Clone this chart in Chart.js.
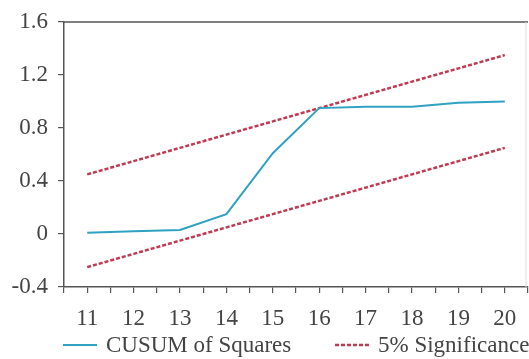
<!DOCTYPE html>
<html>
<head>
<meta charset="utf-8">
<script src="https://cdn.jsdelivr.net/npm/chart.js@4/dist/chart.umd.min.js"></script>
<style>
  html, body { margin: 0; padding: 0; background: #fff; }
  #wrap { width: 529px; height: 359px; position: relative; }
</style>
</head>
<body>
<div id="wrap"><canvas id="c"></canvas></div>
<script>
const periods = [11, 12, 13, 14, 15, 16, 17, 18, 19, 20];
const cusumSq = [0.01, 0.02, 0.03, 0.15, 0.61, 0.95, 0.96, 0.96, 0.99, 1.0];
const upperBound = [0.45, 0.55, 0.65, 0.75, 0.85, 0.95, 1.05, 1.15, 1.25, 1.35];
const lowerBound = [-0.25, -0.15, -0.05, 0.05, 0.15, 0.25, 0.35, 0.45, 0.55, 0.65];
const yTicks = [-0.4, 0, 0.4, 0.8, 1.2, 1.6];

const serif = '"Liberation Serif", "Times New Roman", serif';
const axisColor = '#555';
const teal = '#2fa2c2';
const red = '#c03a52';

const toPoints = vals => vals.map((v, i) => ({ x: periods[i], y: v }));

// top/right frame + legend in the bottom strip
const framePlugin = {
  id: 'frame',
  afterDraw(chart) {
    const { ctx, chartArea: a } = chart;
    ctx.save();
    ctx.strokeStyle = axisColor;
    ctx.lineWidth = 1.5;
    ctx.beginPath();
    ctx.moveTo(a.left, a.top);
    ctx.lineTo(a.right, a.top);
    ctx.stroke();
    ctx.strokeStyle = '#ddd';
    ctx.lineWidth = 1;
    ctx.beginPath();
    ctx.moveTo(a.right - 2, a.top);
    ctx.lineTo(a.right - 2, a.bottom);
    ctx.stroke();

    const items = [
      { ds: chart.data.datasets[0], x0: 63 },
      { ds: chart.data.datasets[1], x0: 335 }
    ];
    const ly = 345;
    ctx.font = '23px ' + serif;
    ctx.textBaseline = 'middle';
    items.forEach(it => {
      ctx.strokeStyle = it.ds.borderColor;
      ctx.lineWidth = it.ds.borderWidth;
      ctx.setLineDash(it.ds.borderDash || []);
      ctx.beginPath();
      ctx.moveTo(it.x0, ly);
      ctx.lineTo(it.x0 + 34, ly);
      ctx.stroke();
      ctx.setLineDash([]);
      ctx.fillStyle = '#444';
      ctx.fillText(it.ds.label, it.x0 + 43, ly + 1);
    });
    ctx.restore();
  }
};

new Chart(document.getElementById('c'), {
  type: 'line',
  data: {
    datasets: [
      {
        label: 'CUSUM of Squares',
        data: toPoints(cusumSq),
        borderColor: teal,
        borderWidth: 2,
        pointRadius: 0,
        tension: 0
      },
      {
        label: '5% Significance',
        data: toPoints(upperBound),
        borderColor: red,
        borderWidth: 2.5,
        borderDash: [4, 2],
        pointRadius: 0
      },
      {
        label: '5% Significance (lower)',
        data: toPoints(lowerBound),
        borderColor: red,
        borderWidth: 2.5,
        borderDash: [4, 2],
        pointRadius: 0
      }
    ]
  },
  options: {
    responsive: true,
    maintainAspectRatio: false,
    animation: false,
    layout: { padding: { top: 22, right: 1, left: 0, bottom: 0 } },
    plugins: {
      legend: { display: false },
      tooltip: { enabled: false }
    },
    scales: {
      x: {
        type: 'linear',
        min: 10.5,
        max: 20.5,
        afterFit: s => {
          s.height = 72;
          s.paddingLeft = 0;
          s.paddingRight = 0;
        },
        afterBuildTicks: s => {
          const t = [];
          for (let v = 21; v <= 41; v++) t.push({ value: v / 2 });
          s.ticks = t;
        },
        border: { color: axisColor, width: 1.5 },
        grid: { drawOnChartArea: false, drawTicks: true, tickLength: 6, color: axisColor, lineWidth: 1.2 },
        ticks: {
          autoSkip: false,
          maxRotation: 0,
          padding: 12,
          color: '#444',
          font: { family: serif, size: 23 },
          callback: v => (Number.isInteger(v) && periods.includes(v) ? String(v) : '')
        }
      },
      y: {
        min: -0.4,
        max: 1.6,
        afterFit: s => {
          s.width = 64;
          s.paddingTop = 0;
          s.paddingBottom = 0;
        },
        afterBuildTicks: s => { s.ticks = yTicks.map(v => ({ value: v })); },
        border: { color: axisColor, width: 1.5 },
        grid: { drawOnChartArea: false, drawTicks: true, tickLength: 6, color: axisColor, lineWidth: 1.2 },
        ticks: {
          padding: 10,
          color: '#444',
          font: { family: serif, size: 23 },
          callback: v => String(Number(v.toFixed(1)))
        }
      }
    }
  },
  plugins: [framePlugin]
});
</script>
</body>
</html>
